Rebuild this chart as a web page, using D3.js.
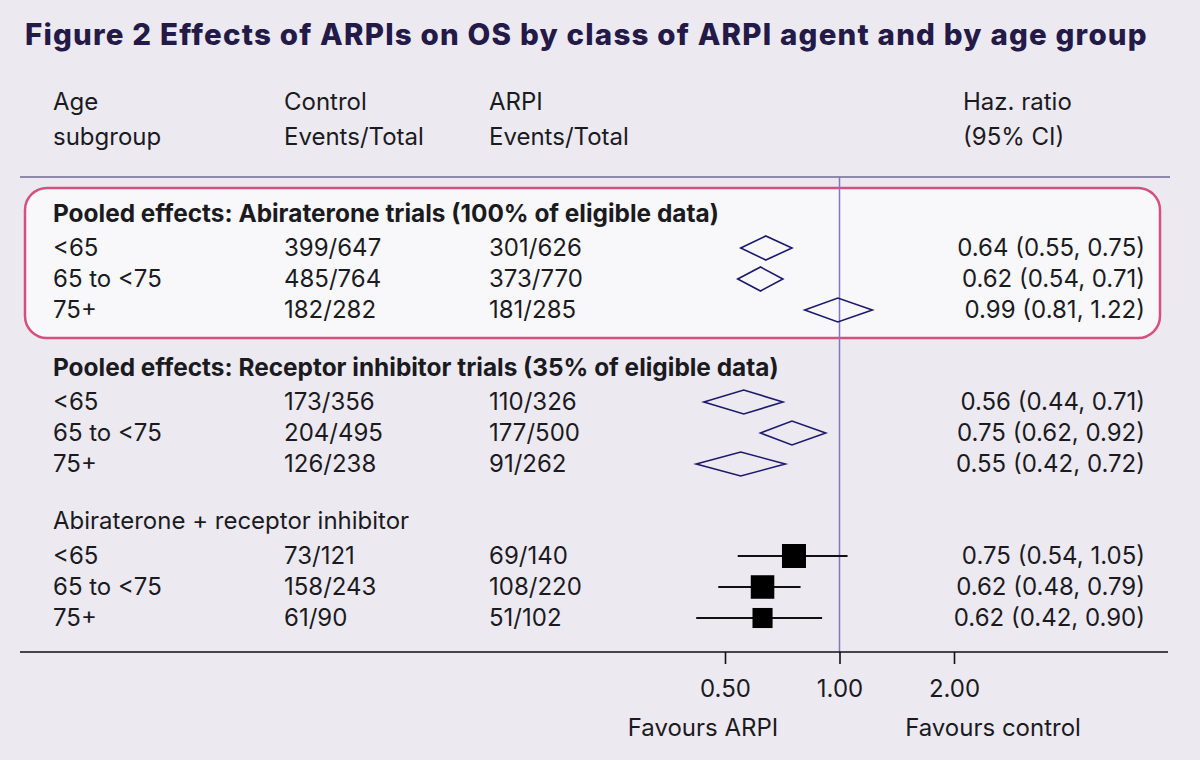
<!DOCTYPE html>
<html>
<head>
<meta charset="utf-8">
<script src="https://cdn.jsdelivr.net/npm/d3@7"></script>
<style>
  body { margin: 0; background: #ece9f1; }
  svg { display: block; }
  text { font-family: Inter, "Open Sans", sans-serif; fill: #1b1b1f; }
</style>
</head>
<body>
<div id="chart"></div>
<script>
// data
const groupTitles = [
  "Pooled effects: Abiraterone trials (100% of eligible data)",
  "Pooled effects: Receptor inhibitor trials (35% of eligible data)",
  "Abiraterone + receptor inhibitor"
];
const groupBold = [true, true, false];
const groupMarker = ["diamond", "diamond", "square"];
const ageGroups = ["<65", "65 to <75", "75+"];

const controlEvents = [399, 485, 182, 173, 204, 126, 73, 158, 61];
const controlTotal  = [647, 764, 282, 356, 495, 238, 121, 243, 90];
const arpiEvents    = [301, 373, 181, 110, 177, 91, 69, 108, 51];
const arpiTotal     = [626, 770, 285, 326, 500, 262, 140, 220, 102];
const hazRatio      = [0.64, 0.62, 0.99, 0.56, 0.75, 0.55, 0.75, 0.62, 0.62];
const ciLow         = [0.55, 0.54, 0.81, 0.44, 0.62, 0.42, 0.54, 0.48, 0.42];
const ciHigh        = [0.75, 0.71, 1.22, 0.71, 0.92, 0.72, 1.05, 0.79, 0.90];
// relative weight of the individual estimates (box size)
const boxWeight     = [null, null, null, null, null, null, 1.0, 0.96, 0.7];

const axisTicks = [0.5, 1, 2];

const width = 1200, height = 760;
const fs = "24px";

const svg = d3.select("#chart").append("svg")
  .attr("width", width)
  .attr("height", height);

svg.append("rect").attr("width", width).attr("height", height).attr("fill", "#ece9f1");

// title
svg.append("text")
  .attr("x", 25).attr("y", 45)
  .style("font-size", "29.5px")
  .style("font-weight", 800)
  .style("letter-spacing", "1.2px")
  .style("fill", "#231a47")
  .text("Figure 2 Effects of ARPIs on OS by class of ARPI agent and by age group");

// columns
const colAge = 53, colCtrl = 284, colArpi = 489, colHR = 963, colHRRight = 1145;

const header = svg.append("g").style("font-size", fs);
[[colAge, ["Age", "subgroup"]], [colCtrl, ["Control", "Events/Total"]],
 [colArpi, ["ARPI", "Events/Total"]], [colHR, ["Haz. ratio", "(95% CI)"]]]
  .forEach(([x, lines]) => {
    lines.forEach((l, i) => {
      header.append("text")
        .attr("x", x).attr("y", 102 + i * 35)
        .attr("dy", "0.35em")
        .text(l);
    });
  });

// x scale (log)
const x = d3.scaleLog().base(2).domain([0.5, 2]).range([725, 954]);

// row layout
const groupY = g => 213 + g * 154;
const rowY = i => groupY(Math.floor(i / 3)) + 35 + (i % 3) * 31;

// highlight box around first group
svg.append("rect")
  .attr("x", 25).attr("y", 188)
  .attr("width", 1135).attr("height", 150)
  .attr("rx", 22)
  .attr("fill", "#f8f7fa")
  .attr("stroke", "#d6507f")
  .attr("stroke-width", 2.5);

// lines
svg.append("line")
  .attr("x1", 20).attr("x2", 1170).attr("y1", 177).attr("y2", 177)
  .attr("stroke", "#6f6a8e").attr("stroke-width", 1.5);

svg.append("line")
  .attr("x1", x(1)).attr("x2", x(1)).attr("y1", 177).attr("y2", 652)
  .attr("stroke", "#8377bd").attr("stroke-width", 1.5);

// group titles
svg.selectAll(".gtitle")
  .data(groupTitles)
  .enter().append("text")
  .attr("class", "gtitle")
  .attr("x", colAge).attr("y", (d, i) => groupY(i))
  .attr("dy", "0.35em")
  .style("font-size", (d, i) => groupBold[i] ? "24.4px" : fs)
  .style("font-weight", (d, i) => groupBold[i] ? 700 : 400)
  .text(d => d);

const rows = hazRatio.map((hr, i) => ({
  age: ageGroups[i % 3],
  ctrl: controlEvents[i] + "/" + controlTotal[i],
  arpi: arpiEvents[i] + "/" + arpiTotal[i],
  hr: hr, lo: ciLow[i], hi: ciHigh[i],
  marker: groupMarker[Math.floor(i / 3)],
  w: boxWeight[i],
  y: rowY(i)
}));

const fmt = d3.format(".2f");

const rowG = svg.selectAll(".row")
  .data(rows)
  .enter().append("g")
  .attr("class", "row")
  .style("font-size", fs);

rowG.append("text").attr("x", colAge).attr("y", d => d.y).attr("dy", "0.35em").text(d => d.age);
rowG.append("text").attr("x", colCtrl).attr("y", d => d.y).attr("dy", "0.35em").text(d => d.ctrl);
rowG.append("text").attr("x", colArpi).attr("y", d => d.y).attr("dy", "0.35em").text(d => d.arpi);
rowG.append("text").attr("x", colHRRight).attr("y", d => d.y).attr("dy", "0.35em")
  .attr("text-anchor", "end")
  .text(d => fmt(d.hr) + " (" + fmt(d.lo) + ", " + fmt(d.hi) + ")");

// diamonds for pooled estimates
rowG.filter(d => d.marker === "diamond")
  .append("path")
  .attr("d", d => {
    const h = 12;
    return "M" + x(d.lo) + "," + d.y + "L" + x(d.hr) + "," + (d.y - h) +
      "L" + x(d.hi) + "," + d.y + "L" + x(d.hr) + "," + (d.y + h) + "Z";
  })
  .attr("fill", "none")
  .attr("stroke", "#1c1a6b")
  .attr("stroke-width", 1.6);

// boxes and whiskers
const boxSize = d3.scaleSqrt().domain([0, 1]).range([0, 24]);
const sq = rowG.filter(d => d.marker === "square");
sq.append("line")
  .attr("x1", d => x(d.lo)).attr("x2", d => x(d.hi))
  .attr("y1", d => d.y).attr("y2", d => d.y)
  .attr("stroke", "#111").attr("stroke-width", 1.8);
sq.append("rect")
  .attr("x", d => x(d.hr) + 2 - boxSize(d.w) / 2)
  .attr("y", d => d.y - boxSize(d.w) / 2)
  .attr("width", d => boxSize(d.w))
  .attr("height", d => boxSize(d.w))
  .attr("fill", "#000");

// x axis
svg.append("line")
  .attr("x1", 20).attr("x2", 1168).attr("y1", 652).attr("y2", 652)
  .attr("stroke", "#111").attr("stroke-width", 1.6);

const axisG = svg.append("g")
  .attr("transform", "translate(0,652)")
  .call(d3.axisBottom(x).tickValues(axisTicks).tickSize(12).tickPadding(16).tickFormat(fmt));
axisG.select(".domain").remove();
axisG.selectAll(".tick line").attr("stroke", "#111").attr("stroke-width", 1.6);
axisG.selectAll(".tick text")
  .style("font-size", fs)
  .style("font-family", "Inter, sans-serif")
  .attr("fill", "#1b1b1f");

svg.append("text")
  .attr("x", 703).attr("y", 728).attr("dy", "0.35em")
  .attr("text-anchor", "middle").style("font-size", fs)
  .text("Favours ARPI");
svg.append("text")
  .attr("x", 993).attr("y", 728).attr("dy", "0.35em")
  .attr("text-anchor", "middle").style("font-size", fs)
  .text("Favours control");
</script>
</body>
</html>
